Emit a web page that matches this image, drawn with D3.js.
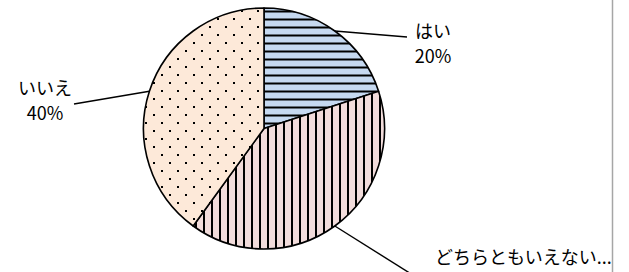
<!DOCTYPE html>
<meta charset="utf-8">
<style>
body { margin: 0; background: #fff; }
text { font-family: "Noto Sans CJK JP", sans-serif; font-size: 18px; fill: #000; }
</style>
<script src="https://cdn.jsdelivr.net/npm/d3@7"></script>
<svg width="629" height="272"></svg>
<script>

var categories = ["はい", "どちらともいえない", "いいえ"];
var values = [20, 40, 40];
var percentLabels = ["20%", "40%", "40%"];
var fills = ["#c6d9f1", "#f2dcdb", "#fde9d9"];

var svg = d3.select("svg");
var cx = 264, cy = 128.5, radius = 120.5;

var defs = svg.append("defs");

// horizontal stripes
var p0 = defs.append("pattern").attr("id", "pat0")
    .attr("patternUnits", "userSpaceOnUse").attr("width", 8).attr("height", 8);
p0.append("rect").attr("width", 8).attr("height", 8).attr("fill", fills[0]);
p0.append("rect").attr("y", 2).attr("width", 8).attr("height", 2).attr("fill", "#000");

// vertical stripes
var p1 = defs.append("pattern").attr("id", "pat1")
    .attr("patternUnits", "userSpaceOnUse").attr("width", 8).attr("height", 8);
p1.append("rect").attr("width", 8).attr("height", 8).attr("fill", fills[1]);
p1.append("rect").attr("x", 3).attr("width", 2).attr("height", 8).attr("fill", "#000");

// dots
var p2 = defs.append("pattern").attr("id", "pat2")
    .attr("patternUnits", "userSpaceOnUse").attr("width", 16).attr("height", 16)
    .attr("x", 9).attr("y", 9.5);
p2.append("rect").attr("width", 16).attr("height", 16).attr("fill", fills[2]);
p2.append("rect").attr("x", 0).attr("y", 0).attr("width", 2).attr("height", 2).attr("fill", "#000");
p2.append("rect").attr("x", 8).attr("y", 8).attr("width", 2).attr("height", 2).attr("fill", "#000");

var data = categories.map(function(c, i) {
  return { name: c, value: values[i], label: percentLabels[i], idx: i };
});

var pie = d3.pie().sort(null).value(function(d) { return d.value; });
var arc = d3.arc().innerRadius(0).outerRadius(radius);
var arcs = pie(data);

var g = svg.append("g").attr("transform", "translate(" + cx + "," + cy + ")");

g.selectAll("path.slice")
  .data(arcs)
  .enter().append("path")
    .attr("class", "slice")
    .attr("d", arc)
    .attr("fill", function(d) { return "url(#pat" + d.data.idx + ")"; })
    .attr("stroke", "#000")
    .attr("stroke-width", 1.6)
    .attr("stroke-linejoin", "round");

// label layout: leader end point and text anchor, relative to pie centre
var labelLayout = [
  { end: [143, -91.5], tx: 169, ty: -90.5, two: true, anchor: "middle" },
  { end: [148, 146], tx: 171, ty: 135.5, two: false, anchor: "start" },
  { end: [-190, -24.5], tx: -219, ty: -33.5, two: true, anchor: "middle" }
];

arcs.forEach(function(d, i) {
  var mid = (d.startAngle + d.endAngle) / 2;
  var sx = radius * Math.sin(mid), sy = -radius * Math.cos(mid);
  var L = labelLayout[i];
  g.append("line")
    .attr("x1", sx).attr("y1", sy)
    .attr("x2", L.end[0]).attr("y2", L.end[1])
    .attr("stroke", "#000").attr("stroke-width", 1.4);
  var t = g.append("text").attr("text-anchor", L.anchor);
  if (L.two) {
    t.append("tspan").attr("x", L.tx).attr("y", L.ty).text(d.data.name);
    t.append("tspan").attr("x", L.tx).attr("y", L.ty + 24.5).text(d.data.label);
  } else {
    t.append("tspan").attr("x", L.tx).attr("y", L.ty).text(d.data.name + "...");
  }
});

// right border of the plot frame
svg.append("line")
  .attr("x1", 612.5).attr("x2", 612.5).attr("y1", 0).attr("y2", 272)
  .attr("stroke", "#a6a6a6").attr("stroke-width", 1.5);

</script>
